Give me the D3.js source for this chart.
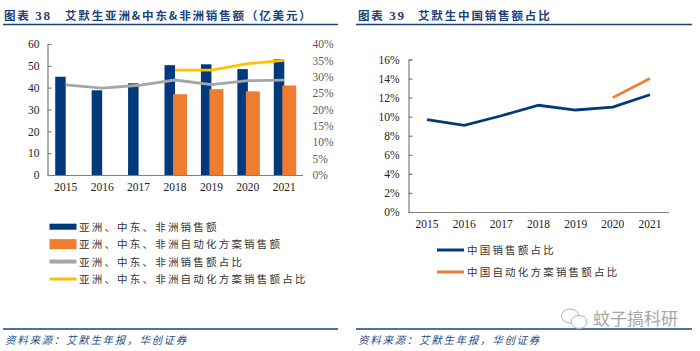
<!DOCTYPE html>
<html lang="en">
<head>
<meta charset="UTF-8">
<title>艾默生销售额</title>
<script src="https://d3js.org/d3.v7.min.js"></script>
<style>
    html, body { margin: 0; padding: 0; background: #fff; }
    svg { display: block; }
    .tick text { font-family: "Liberation Serif", serif; font-size: 11.5px; fill: #222; }
    .right-pct .tick text { fill: #595959; }
    .domain, .tick line { stroke: #7f7f7f; stroke-width: 1.2px; }
    .title { font-family: "Noto Sans CJK SC", sans-serif; font-size: 11.5px; font-weight: 700; fill: #1a3f7a; letter-spacing: 1.85px; }
    .title .num { font-family: "Liberation Serif", serif; font-size: 13px; }
    .legend { font-family: "Noto Sans CJK SC", sans-serif; font-size: 10.5px; fill: #333; letter-spacing: 2.2px; }
    .source { font-family: "Noto Sans CJK SC", sans-serif; font-size: 10.5px; font-style: italic; fill: #1f4e8c; letter-spacing: 1.7px; }
    .mark { font-family: "Noto Sans CJK SC", sans-serif; font-size: 17px; fill: #a6a6a6; }
</style>
</head>
<body>
<svg width="700" height="351"></svg>
<script>
const years = ["2015", "2016", "2017", "2018", "2019", "2020", "2021"];

// 亿美元
const asiaSales = [45, 38.8, 42, 50.3, 50.7, 48.5, 53];
const asiaAutoSales = [null, null, null, 37, 39.3, 38.3, 41];
// %
const asiaShare = [27.5, 26.5, 27.4, 29, 27.6, 28.8, 29];
const asiaAutoShare = [null, null, null, 32, 32, 34, 35];
const chinaShare = [9.7, 9.1, 10.1, 11.2, 10.7, 11, 12.3];
const chinaAutoShare = [null, null, null, null, null, 12, 14];

const leftTicks = [0, 10, 20, 30, 40, 50, 60];
const pctTicks = [0, 5, 10, 15, 20, 25, 30, 35, 40];
const chinaTicks = [0, 2, 4, 6, 8, 10, 12, 14, 16];

const navy = "#003a7d", orange = "#ed7d31", grey = "#a5a5a5", yellow = "#ffc000";

const svg = d3.select("svg");

// 左图
const x1 = d3.scaleBand().domain(years).range([47.5, 302.5]);
const y1 = d3.scaleLinear().domain([0, 60]).range([175, 44]);
const y1r = d3.scaleLinear().domain([0, 40]).range([175, 44]);
const mid1 = d => x1(d) + x1.bandwidth() / 2;

svg.append("g").selectAll("rect")
    .data(years.map((y, i) => ({ y, v: asiaSales[i] })))
    .join("rect")
    .attr("x", d => mid1(d.y) - 10.5)
    .attr("width", 10.5)
    .attr("y", d => y1(d.v))
    .attr("height", d => y1(0) - y1(d.v))
    .attr("fill", navy);

svg.append("g").selectAll("rect")
    .data(years.map((y, i) => ({ y, v: asiaAutoSales[i] })).filter(d => d.v !== null))
    .join("rect")
    .attr("x", d => mid1(d.y) - 2)
    .attr("width", 14)
    .attr("y", d => y1(d.v))
    .attr("height", d => y1(0) - y1(d.v))
    .attr("fill", orange);

svg.append("g").attr("transform", "translate(47.5,0)")
    .call(d3.axisLeft(y1).tickValues(leftTicks).tickSize(-4).tickPadding(8));
svg.append("g").attr("class", "right-pct").attr("transform", "translate(302.5,0)")
    .call(d3.axisRight(y1r).tickValues(pctTicks).tickFormat(d => d + "%").tickSize(0).tickPadding(10))
    .select(".domain").remove();
svg.append("g").attr("transform", "translate(0,175)")
    .call(d3.axisBottom(x1).tickSize(0).tickPadding(8));

function drawLine(vals, xf, yf, color, w) {
    const line = d3.line()
        .defined(d => d.v !== null)
        .x(d => xf(d.y))
        .y(d => yf(d.v));
    svg.append("path")
        .datum(years.map((y, i) => ({ y, v: vals[i] })))
        .attr("d", line)
        .attr("fill", "none")
        .attr("stroke", color)
        .attr("stroke-width", w);
}
drawLine(asiaShare, mid1, y1r, grey, 2.8);
drawLine(asiaAutoShare, mid1, y1r, yellow, 2.8);

// 右图
const x2 = d3.scaleBand().domain(years).range([408.5, 668.5]);
const y2 = d3.scaleLinear().domain([0, 16]).range([212, 59.5]);
const mid2 = d => x2(d) + x2.bandwidth() / 2;

svg.append("g").attr("transform", "translate(408.5,0)")
    .call(d3.axisLeft(y2).tickValues(chinaTicks).tickFormat(d => d + "%").tickSize(-4).tickPadding(9));
svg.append("g").attr("transform", "translate(0,212)")
    .call(d3.axisBottom(x2).tickSize(0).tickPadding(8));
drawLine(chinaShare, mid2, y2, navy, 2.8);
drawLine(chinaAutoShare, mid2, y2, orange, 2.8);

// 标题、分隔线
function header(x, num, text, textX) {
    const t = svg.append("text").attr("class", "title").attr("x", x).attr("y", 20);
    t.append("tspan").text("图表 ");
    t.append("tspan").attr("class", "num").text(num);
    svg.append("text").attr("class", "title").attr("x", textX).attr("y", 20).text(text);
}
header(4, "38", "艾默生亚洲&中东&非洲销售额（亿美元）", 65);
header(358, "39", "艾默生中国销售额占比", 418);

[[3, 338], [356, 692]].forEach(([a, b]) => {
    [24.5, 329].forEach(y => {
        svg.append("line").attr("x1", a).attr("x2", b).attr("y1", y).attr("y2", y)
            .attr("stroke", "#1a3f7a").attr("stroke-width", 1.6);
    });
});

svg.append("text").attr("class", "source").attr("x", 5).attr("y", 344).text("资料来源：艾默生年报，华创证券");
svg.append("text").attr("class", "source").attr("x", 358).attr("y", 344).text("资料来源：艾默生年报，华创证券");

// 图例
const legend1 = [
    { label: "亚洲、中东、非洲销售额", color: navy, h: 6 },
    { label: "亚洲、中东、非洲自动化方案销售额", color: orange, h: 10 },
    { label: "亚洲、中东、非洲销售额占比", color: grey, h: 4 },
    { label: "亚洲、中东、非洲自动化方案销售额占比", color: yellow, h: 3 }
];
const legendY1 = d3.scalePoint().domain(d3.range(4)).range([226.7, 279]);
legend1.forEach((d, i) => {
    svg.append("rect").attr("x", 49.5).attr("width", 27)
        .attr("y", legendY1(i) - d.h / 2).attr("height", d.h).attr("fill", d.color);
    svg.append("text").attr("class", "legend").attr("x", 79).attr("y", legendY1(i) + 4).text(d.label);
});

const legend2 = [
    { label: "中国销售额占比", color: navy, y: 250 },
    { label: "中国自动化方案销售额占比", color: orange, y: 272 }
];
legend2.forEach(d => {
    svg.append("rect").attr("x", 437).attr("width", 27)
        .attr("y", d.y - 1.5).attr("height", 3).attr("fill", d.color);
    svg.append("text").attr("class", "legend").attr("x", 467).attr("y", d.y + 4).text(d.label);
});

// 水印
const mark = svg.append("g").attr("fill", "#fff").attr("stroke", "#b0b0b0").attr("stroke-width", 1);
mark.append("ellipse").attr("cx", 570).attr("cy", 316).attr("rx", 8.5).attr("ry", 7);
mark.append("ellipse").attr("cx", 579).attr("cy", 322).attr("rx", 8).attr("ry", 6.5);
svg.append("text").attr("class", "mark").attr("x", 593).attr("y", 325).text("蚊子搞科研");
</script>
</body>
</html>
